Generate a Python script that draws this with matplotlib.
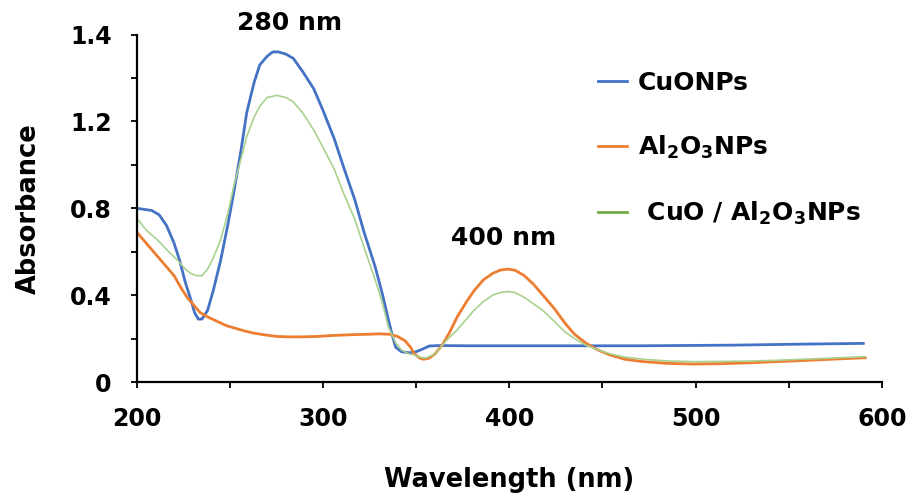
import numpy as np
import matplotlib.pyplot as plt
from matplotlib.ticker import MultipleLocator

plt.rcParams['font.family'] = ['DejaVu Sans']
plt.rcParams['font.weight'] = 'bold'
plt.rcParams['mathtext.default'] = 'bf'

cuo_x = [200, 208, 212, 216, 220, 223, 226, 229, 231, 233, 235, 238, 241, 245, 249, 252,
         256, 259, 263, 266, 270, 273, 276, 280, 284, 289, 295, 300, 306, 311, 317, 322,
         328, 332, 335, 337, 339, 342, 346, 349, 353, 357, 362, 380, 420, 470, 520, 560, 590]
cuo_y = [0.80, 0.79, 0.77, 0.72, 0.64, 0.56, 0.46, 0.38, 0.32, 0.29, 0.29, 0.33, 0.42, 0.56,
         0.73, 0.87, 1.07, 1.24, 1.38, 1.46, 1.50, 1.52, 1.52, 1.51, 1.49, 1.43, 1.35, 1.25,
         1.12, 0.99, 0.84, 0.69, 0.53, 0.40, 0.29, 0.22, 0.16, 0.14, 0.135, 0.137, 0.15, 0.166,
         0.168, 0.167, 0.167, 0.167, 0.17, 0.175, 0.178]

al_x = [200, 205, 211, 216, 220, 224, 227, 231, 234, 238, 243, 248, 252, 258, 263, 269, 275,
        282, 288, 297, 306, 315, 324, 330, 336, 340, 344, 347, 349, 352, 354, 357, 360, 364,
        368, 372, 377, 381, 386, 391, 395, 399, 403, 408, 413, 418, 424, 430, 435, 441, 447,
        454, 462, 472, 485, 499, 515, 530, 543, 560, 575, 591]
al_y = [0.69, 0.64, 0.58, 0.53, 0.49, 0.43, 0.39, 0.35, 0.32, 0.30, 0.28, 0.26, 0.25, 0.235,
        0.225, 0.217, 0.21, 0.208, 0.208, 0.21, 0.215, 0.218, 0.22, 0.222, 0.22, 0.21, 0.19,
        0.16, 0.13, 0.11, 0.105, 0.11, 0.13, 0.17, 0.23, 0.30, 0.37, 0.42, 0.47, 0.50, 0.515,
        0.52, 0.515, 0.49, 0.45, 0.40, 0.34, 0.27, 0.22, 0.18, 0.15, 0.125, 0.105, 0.094, 0.086,
        0.083, 0.085, 0.089, 0.094, 0.10, 0.106, 0.112]

mix_x = [200, 205, 211, 216, 222, 226, 229, 232, 235, 238, 241, 245, 249, 252, 256, 259, 263,
         266, 270, 275, 280, 284, 289, 295, 300, 306, 311, 317, 322, 328, 332, 335, 339, 342,
         346, 349, 352, 355, 359, 362, 366, 372, 377, 381, 386, 391, 395, 399, 403, 408, 413,
         418, 424, 430, 435, 441, 447, 454, 462, 472, 485, 499, 515, 530, 543, 560, 575, 591]
mix_y = [0.755, 0.70, 0.655, 0.61, 0.56, 0.52, 0.50, 0.49, 0.49, 0.52, 0.57, 0.655, 0.78, 0.90,
         1.03, 1.13, 1.22, 1.27, 1.31, 1.32, 1.31, 1.29, 1.24, 1.16, 1.08, 0.98, 0.87, 0.75, 0.62,
         0.47, 0.36, 0.255, 0.18, 0.148, 0.13, 0.125, 0.115, 0.11, 0.125, 0.148, 0.19, 0.24, 0.29,
         0.33, 0.37, 0.40, 0.412, 0.417, 0.412, 0.39, 0.36, 0.33, 0.28, 0.23, 0.20, 0.17, 0.15,
         0.13, 0.115, 0.105, 0.097, 0.094, 0.095, 0.097, 0.10, 0.106, 0.111, 0.117]

series_labels = ['CuONPs', r'Al$_\mathbf{2}$O$_\mathbf{3}$NPs', r' CuO / Al$_\mathbf{2}$O$_\mathbf{3}$NPs']
x_ticks = [200, 300, 400, 500, 600]
y_ticks = [0, 0.4, 0.8, 1.2, 1.6]
y_tick_labels = ['0', '0.4', '0.8', '1.2', '1.4']

fig = plt.figure(figsize=(9.12, 4.93), dpi=100)
ax = fig.add_axes([0.150, 0.225, 0.817, 0.705])

l1, = ax.plot(cuo_x, cuo_y, color='#4472C4', lw=2.0)
l2, = ax.plot(al_x, al_y, color='#ED7D31', lw=2.0)
ax.plot(mix_x, mix_y, color='#A9D18E', lw=1.2)
l3, = ax.plot([], [], color='#70AD47', lw=2.0)

ax.set_xlim(200, 600)
ax.set_ylim(0, 1.6)
ax.set_xticks(x_ticks)
ax.xaxis.set_minor_locator(MultipleLocator(50))
ax.set_yticks(y_ticks)
ax.set_yticklabels(y_tick_labels)
ax.yaxis.set_minor_locator(MultipleLocator(0.2))

for s in ['top', 'right']:
    ax.spines[s].set_visible(False)
for s in ['left', 'bottom']:
    ax.spines[s].set_linewidth(1.6)
ax.tick_params(which='both', direction='out', length=4, width=1.3, colors='black')
ax.tick_params(axis='x', which='major', pad=14, labelsize=17)
ax.tick_params(axis='y', which='major', pad=14, labelsize=17)

ax.set_xlabel('Wavelength (nm)', fontsize=18.5, fontweight='bold', labelpad=26)
ax.set_ylabel('Absorbance', fontsize=18.5, fontweight='bold', labelpad=20)

ax.text(282, 1.597, '280 nm', fontsize=18, fontweight='bold', ha='center', va='bottom')
ax.text(397, 0.61, '400 nm', fontsize=18, fontweight='bold', ha='center', va='bottom')

ax.legend([l1, l2, l3], series_labels, loc='upper left',
          bbox_to_anchor=(598 / 912, 1 - 71 / 493), bbox_transform=fig.transFigure,
          frameon=False, fontsize=18, handlelength=1.15, labelspacing=1.55,
          handletextpad=0.45, borderpad=0, borderaxespad=0)

fig.savefig('out.png', dpi=100)
